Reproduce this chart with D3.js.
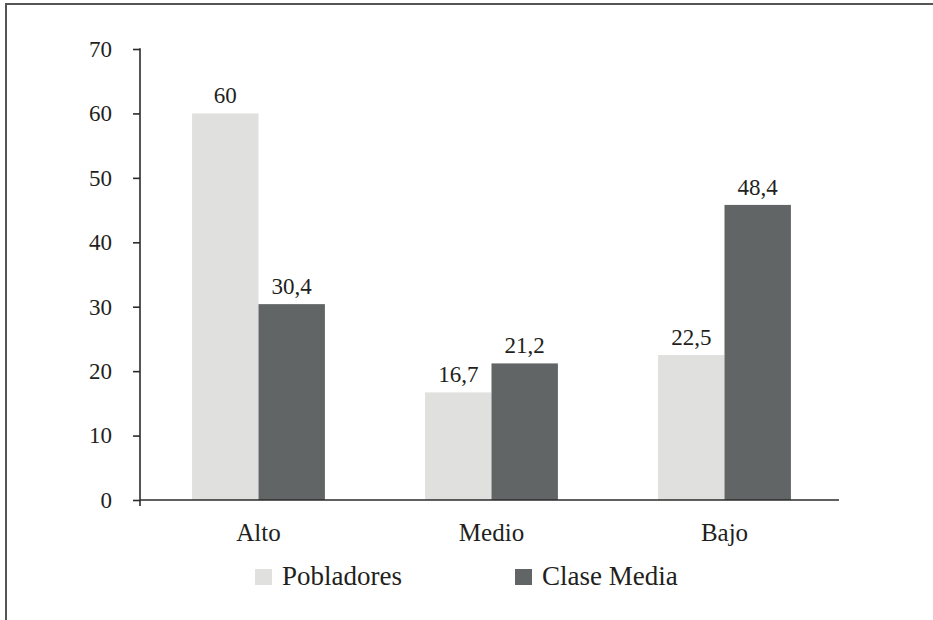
<!DOCTYPE html>
<html><head><meta charset="utf-8"><script src="https://cdn.jsdelivr.net/npm/d3@7"></script></head>
<body style="margin:0">
<svg id="chart" width="933" height="620"></svg>
<script>
// categories and series
var categories = ["Alto", "Medio", "Bajo"];
var seriesNames = ["Pobladores", "Clase Media"];
var pobladores = [60, 16.7, 22.5];
var claseMedia = [30.4, 21.2, 45.8];
// value labels as printed on the chart
var pobladoresLabels = ["60", "16,7", "22,5"];
var claseMediaLabels = ["30,4", "21,2", "48,4"];
var yTicks = [0, 10, 20, 30, 40, 50, 60, 70];

var colors = ["#e0e0df", "#616565"];
var labelFont = "Tinos, 'Times New Roman', 'Liberation Serif', FreeSerif, serif";

var svg = d3.select("#chart");
var margin = {top: 49, right: 94, bottom: 120, left: 140};
var width = 933 - margin.left - margin.right,
    height = 620 - margin.top - margin.bottom;

// frame (top and left edges)
svg.append("path")
    .attr("d", "M6,620V4H933")
    .attr("fill", "none")
    .attr("stroke", "#555")
    .attr("stroke-width", 2);

var g = svg.append("g").attr("transform", "translate(" + margin.left + "," + margin.top + ")");

var x0 = d3.scaleBand().domain(categories).range([2, width + 2])
    .paddingInner(0.43).paddingOuter(0.215);
var x1 = d3.scaleBand().domain(seriesNames).range([0, x0.bandwidth()]);
var y = d3.scaleLinear().domain([0, 70]).range([height, 0]);

var data = categories.map(function(c, i) {
  return {cat: c, vals: [
    {name: seriesNames[0], v: pobladores[i], label: pobladoresLabels[i]},
    {name: seriesNames[1], v: claseMedia[i], label: claseMediaLabels[i]}
  ]};
});

var groups = g.selectAll(".grp").data(data).enter().append("g")
    .attr("class", "grp")
    .attr("transform", function(d) { return "translate(" + x0(d.cat) + ",0)"; });

groups.selectAll("rect").data(function(d) { return d.vals; }).enter().append("rect")
    .attr("x", function(d) { return x1(d.name); })
    .attr("y", function(d) { return y(d.v); })
    .attr("width", x1.bandwidth())
    .attr("height", function(d) { return height - y(d.v); })
    .attr("fill", function(d, i) { return colors[i]; });

groups.selectAll(".lbl").data(function(d) { return d.vals; }).enter().append("text")
    .attr("class", "lbl")
    .attr("x", function(d) { return x1(d.name) + x1.bandwidth() / 2; })
    .attr("y", function(d) { return y(d.v) - 10; })
    .attr("text-anchor", "middle")
    .style("font-family", labelFont)
    .attr("font-size", 23)
    .attr("fill", "#231f20")
    .text(function(d) { return d.label; });

// y axis
var yAxis = g.append("g")
    .call(d3.axisLeft(y).tickValues(yTicks).tickSize(7).tickPadding(21));
yAxis.select(".domain").remove();
yAxis.selectAll("line").attr("stroke", "#2b2b2b").attr("stroke-width", 1.6);
yAxis.selectAll("text")
    .style("font-family", labelFont).attr("font-size", 23)
    .attr("fill", "#231f20");
g.append("line")
    .attr("x1", 0).attr("x2", 0)
    .attr("y1", y(70) - 0.8).attr("y2", height + 6)
    .attr("stroke", "#2b2b2b").attr("stroke-width", 1.6);

// x axis
var xAxis = g.append("g")
    .attr("transform", "translate(0," + height + ")")
    .call(d3.axisBottom(x0).tickSize(0).tickPadding(23));
xAxis.select(".domain").remove();
xAxis.selectAll("text")
    .style("font-family", labelFont).attr("font-size", 25)
    .attr("fill", "#231f20");
g.append("line")
    .attr("x1", 0).attr("x2", width)
    .attr("y1", height).attr("y2", height)
    .attr("stroke", "#2b2b2b").attr("stroke-width", 1.6);

// legend
var legendX = [255, 515];
var legend = svg.selectAll(".legend").data(seriesNames).enter().append("g")
    .attr("class", "legend")
    .attr("transform", function(d, i) { return "translate(" + legendX[i] + ",569)"; });
legend.append("rect")
    .attr("width", 17).attr("height", 16)
    .attr("fill", function(d, i) { return colors[i]; });
legend.append("text")
    .attr("x", 27).attr("y", 16)
    .style("font-family", labelFont)
    .attr("font-size", 27)
    .attr("fill", "#231f20")
    .text(function(d) { return d; });
</script>
</body>
</html>
